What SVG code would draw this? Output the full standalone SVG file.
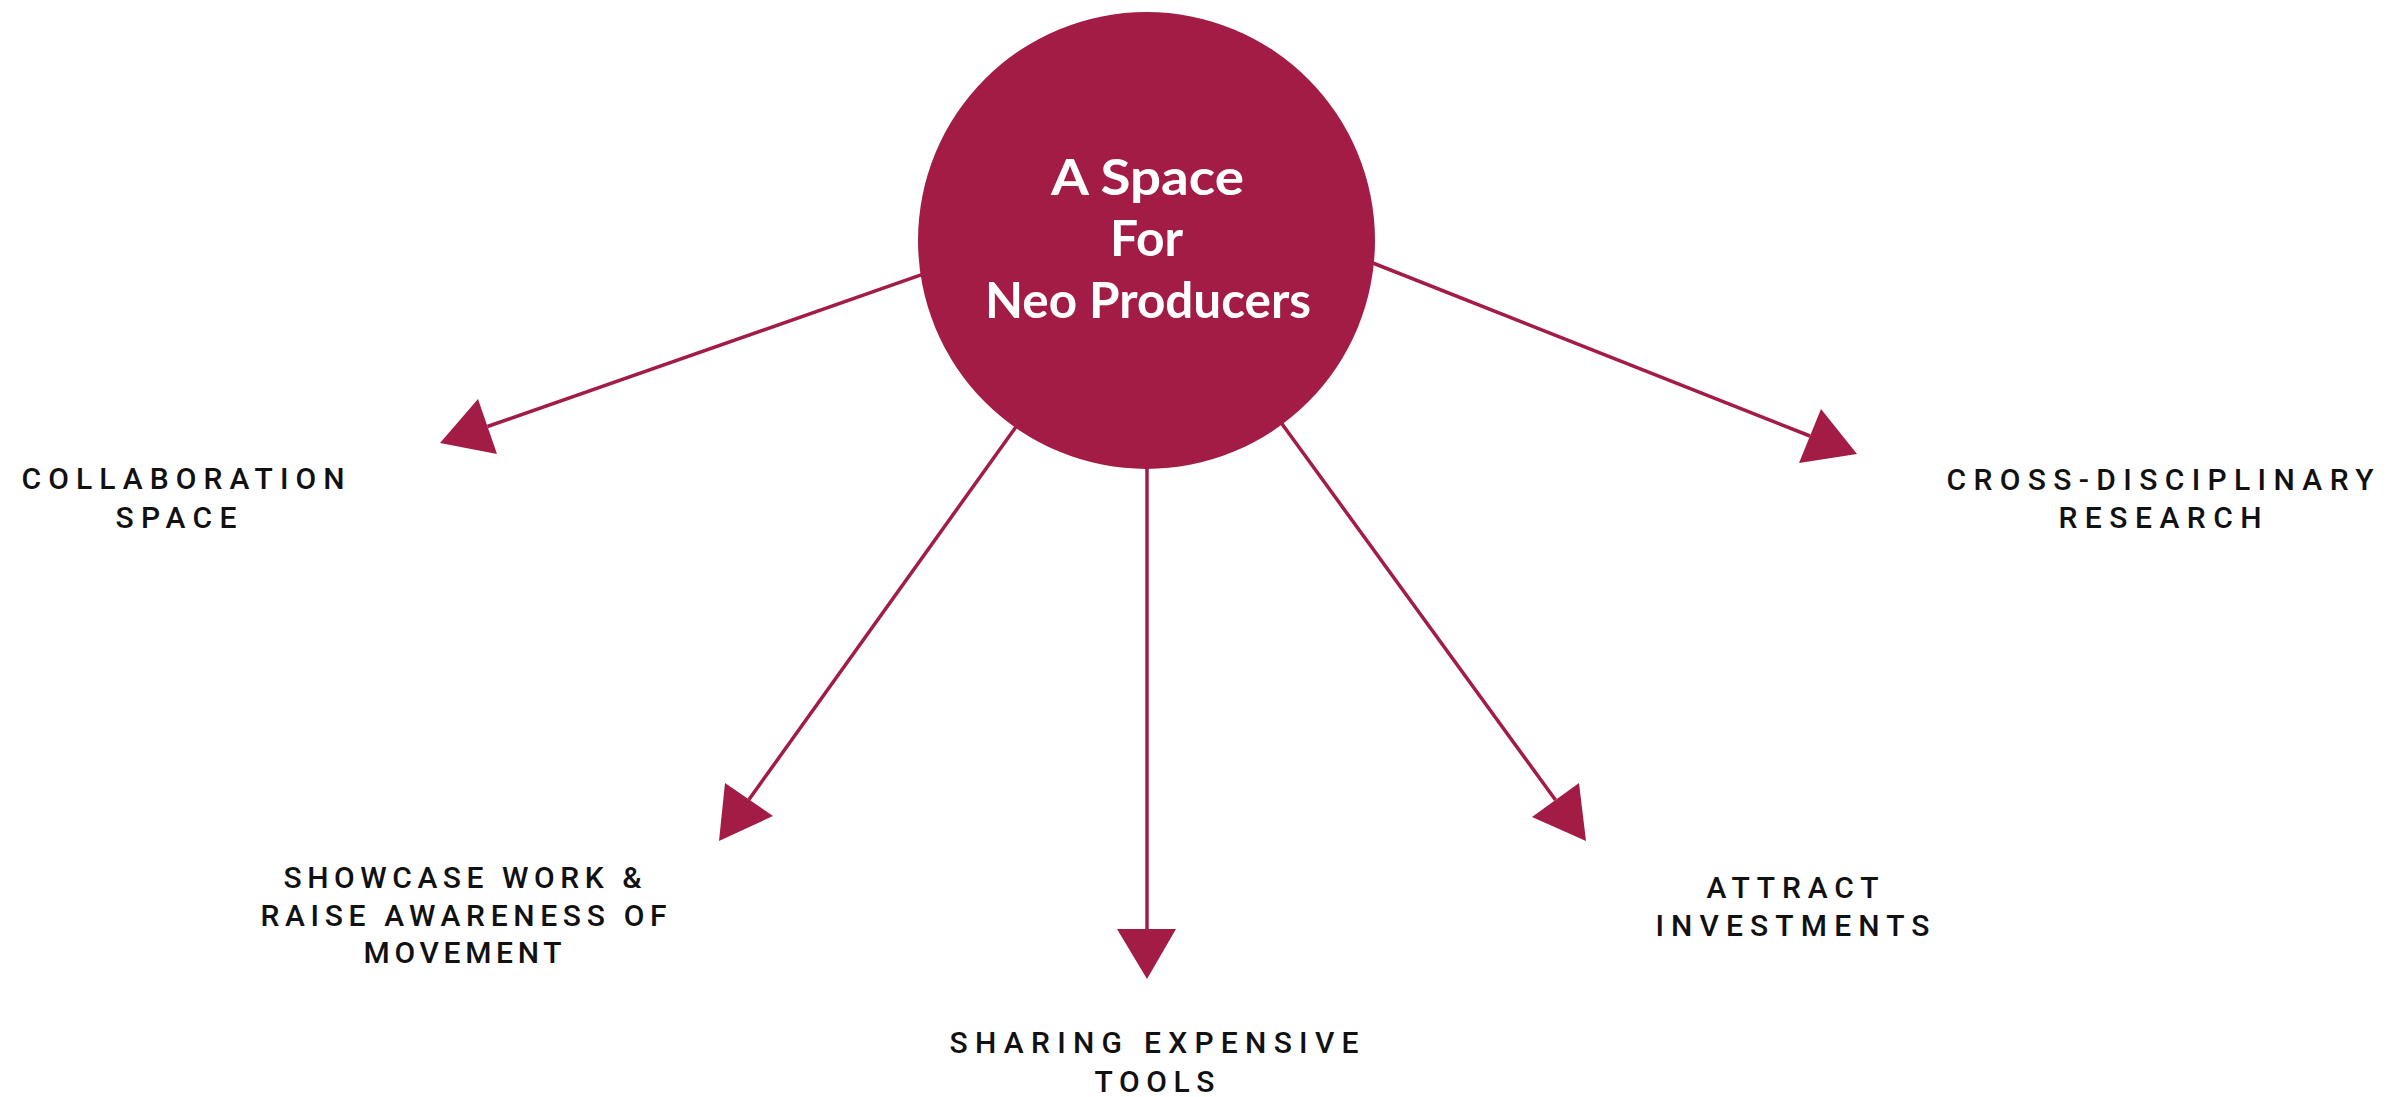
<svg xmlns="http://www.w3.org/2000/svg" width="2399" height="1097" viewBox="0 0 2399 1097">
  <style>
    .conn { stroke: #A31C45; stroke-width: 3.5; fill: none; }
    .head { fill: #A31C45; }
    .hub { fill: #A31C45; }
    .hubtext { font-family: Lato, "Liberation Sans", sans-serif; font-weight: 700; font-size: 50px; fill: #ffffff; text-anchor: middle; }
    .label { font-family: Roboto, "Liberation Sans", sans-serif; font-weight: 500; font-size: 30px; fill: #111111; text-anchor: middle; }
  </style>
  <rect width="2399" height="1097" fill="#ffffff"/>
  <g id="connectors">
    <line class="conn" x1="927.5" y1="272.7" x2="487.5" y2="426.5"/>
    <polygon class="head" points="440,443 478,399 497,454"/>
    <line class="conn" x1="1018" y1="424" x2="749" y2="799.5"/>
    <polygon class="head" points="719,841 725,783 773,816"/>
    <line class="conn" x1="1147" y1="460" x2="1147" y2="930"/>
    <polygon class="head" points="1147,979 1117,929 1176,929"/>
    <line class="conn" x1="1277" y1="417" x2="1555.5" y2="800"/>
    <polygon class="head" points="1586,841 1579,783 1532,817"/>
    <line class="conn" x1="1364" y1="259.5" x2="1810" y2="436"/>
    <polygon class="head" points="1857,454 1821,409 1799,463"/>
  </g>
  <g id="hub">
    <circle class="hub" cx="1146.5" cy="240.5" r="228.5"/>
    <text class="hubtext" x="1147.5" y="195" textLength="193" lengthAdjust="spacingAndGlyphs">A Space</text>
    <text class="hubtext" x="1146.5" y="256" textLength="73" lengthAdjust="spacingAndGlyphs">For</text>
    <text class="hubtext" x="1148" y="318" textLength="326" lengthAdjust="spacingAndGlyphs">Neo Producers</text>
  </g>
  <g id="collaboration">
    <text class="label" x="183" y="489" textLength="323" lengthAdjust="spacing">COLLABORATION</text>
    <text class="label" x="176" y="528" textLength="121" lengthAdjust="spacing">SPACE</text>
  </g>
  <g id="showcase">
    <text class="label" x="462.5" y="888" textLength="358" lengthAdjust="spacing">SHOWCASE WORK &amp;</text>
    <text class="label" x="463.5" y="926" textLength="406" lengthAdjust="spacing">RAISE AWARENESS OF</text>
    <text class="label" x="462.5" y="963" textLength="198" lengthAdjust="spacing">MOVEMENT</text>
  </g>
  <g id="sharing">
    <text class="label" x="1154" y="1053" textLength="409" lengthAdjust="spacing">SHARING EXPENSIVE</text>
    <text class="label" x="1154.5" y="1092" textLength="120" lengthAdjust="spacing">TOOLS</text>
  </g>
  <g id="attract">
    <text class="label" x="1792.5" y="898" textLength="172" lengthAdjust="spacing">ATTRACT</text>
    <text class="label" x="1792.5" y="936" textLength="274" lengthAdjust="spacing">INVESTMENTS</text>
  </g>
  <g id="research">
    <text class="label" x="2160" y="490" textLength="427" lengthAdjust="spacing">CROSS-DISCIPLINARY</text>
    <text class="label" x="2160" y="528" textLength="203" lengthAdjust="spacing">RESEARCH</text>
  </g>
</svg>
